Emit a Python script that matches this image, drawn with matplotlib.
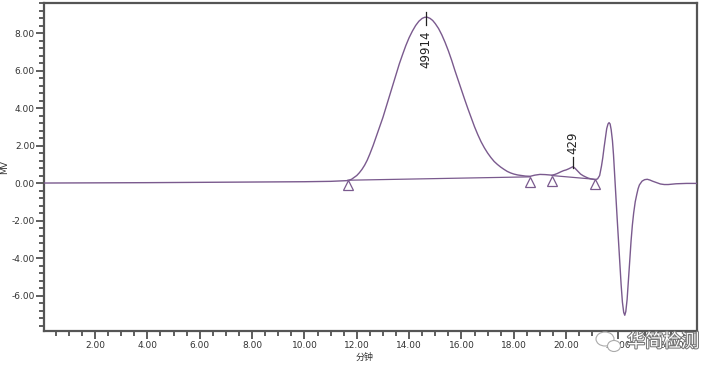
import matplotlib
matplotlib.use("Agg")
import matplotlib.pyplot as plt
import matplotlib.transforms as mtransforms
import matplotlib.patheffects as pe
from matplotlib.patches import Ellipse
from matplotlib.ticker import MultipleLocator, FormatStrFormatter

# chromatogram trace (minutes, mV)
t = [0.05, 4.0, 8.0, 10.0, 11.0, 11.66, 11.8, 11.9, 12.0, 12.1, 12.2, 12.3, 12.4,
     12.5, 12.625, 12.75, 12.875, 13.0, 13.125, 13.25, 13.375, 13.5, 13.625, 13.75,
     13.875, 14.0, 14.125, 14.25, 14.375, 14.5, 14.6, 14.7, 14.8, 14.9, 15.0,
     15.125, 15.25, 15.375, 15.5, 15.625, 15.75, 15.875, 16.0, 16.125, 16.25,
     16.375, 16.5, 16.625, 16.75, 16.875, 17.0, 17.125, 17.25, 17.375, 17.5,
     17.625, 17.75, 17.875, 18.0, 18.15, 18.3, 18.45, 18.63, 18.8, 19.0, 19.2,
     19.45, 19.55, 19.65, 19.8, 19.9, 20.0, 20.1, 20.2, 20.26, 20.33, 20.4, 20.48,
     20.55, 20.65, 20.75, 20.85, 20.95, 21.1, 21.2, 21.28, 21.35, 21.4, 21.45,
     21.5, 21.55, 21.6, 21.64, 21.68, 21.72, 21.77, 21.81, 21.85, 21.9, 21.95,
     22.0, 22.05, 22.1, 22.15, 22.2, 22.24, 22.28, 22.33, 22.38, 22.43, 22.48,
     22.53, 22.58, 22.64, 22.7, 22.75, 22.8, 22.9, 23.0, 23.1, 23.2, 23.3, 23.4,
     23.5, 23.6, 23.75, 23.9, 24.2, 24.6, 25.0]
mv = [0.0, 0.02, 0.05, 0.07, 0.09, 0.13, 0.2, 0.3, 0.4, 0.55, 0.73, 0.95, 1.22,
      1.55, 2.0, 2.5, 3.0, 3.5, 4.07, 4.65, 5.22, 5.8, 6.35, 6.85,
      7.33, 7.75, 8.1, 8.4, 8.63, 8.78, 8.84, 8.84, 8.78, 8.67, 8.5,
      8.24, 7.9, 7.5, 7.05, 6.55, 6.0, 5.48, 4.95, 4.45, 3.95,
      3.47, 3.0, 2.58, 2.2, 1.88, 1.6, 1.36, 1.15, 0.99, 0.85,
      0.73, 0.62, 0.54, 0.48, 0.43, 0.4, 0.37, 0.36, 0.42, 0.46, 0.45,
      0.42, 0.45, 0.5, 0.6, 0.66, 0.7, 0.76, 0.83, 0.87, 0.8, 0.7, 0.58,
      0.48, 0.39, 0.32, 0.26, 0.22, 0.18, 0.22, 0.4, 0.9, 1.35, 1.9,
      2.4, 2.9, 3.15, 3.22, 3.15, 2.85, 2.25, 1.5, 0.5, -0.7, -1.9,
      -3.1, -4.3, -5.4, -6.35, -6.9, -7.05, -6.85, -6.2, -5.2, -4.15, -3.1,
      -2.25, -1.6, -1.0, -0.6, -0.3, -0.1, 0.1, 0.18, 0.2, 0.16, 0.1, 0.05,
      0.0, -0.05, -0.08, -0.08, -0.04, -0.02, -0.02]

# integration baselines (start/end points)
base_t = [[11.66, 18.63], [19.45, 21.1]]
base_mv = [[0.15, 0.33], [0.40, 0.20]]

# peak apex labels
peak_t = [14.63, 20.26]
peak_tick_lo = [8.43, 0.80]
peak_tick_hi = [9.13, 1.39]
peak_label_y = [7.15, 2.13]
peak_labels = ["49914", "429"]

purple = "#7a5a8e"
spine_c = "#555555"

fig = plt.figure(figsize=(7.13, 3.71), dpi=100)
ax = fig.add_axes([44 / 713, 1 - 331 / 371, (697 - 44) / 713, (331 - 3) / 371])

ax.plot(t, mv, color=purple, lw=1.0, zorder=3, solid_joinstyle="round")
for bt, bm in zip(base_t, base_mv):
    ax.plot(bt, bm, color=purple, lw=0.9, zorder=3)

# triangles sit just below the baseline ends
tri_tr = mtransforms.offset_copy(ax.transData, fig=fig, x=0, y=-5, units="dots")
tri_x = [v for bt in base_t for v in bt]
tri_y = [v for bm in base_mv for v in bm]
ax.plot(tri_x, tri_y, ls="none", marker="^", ms=7, mfc="white", mec=purple,
        mew=0.9, transform=tri_tr, zorder=4)

for i in range(len(peak_t)):
    ax.plot([peak_t[i], peak_t[i]], [peak_tick_lo[i], peak_tick_hi[i]], color="#222222", lw=0.9, zorder=4)
    ax.text(peak_t[i], peak_label_y[i], peak_labels[i], rotation=90, ha="center", va="center",
            fontsize=8.5, color="#222222")

ax.set_xlim(0.05, 25)
ax.set_ylim(-7.89, 9.6)
ax.xaxis.set_major_locator(MultipleLocator(2))
ax.xaxis.set_minor_locator(MultipleLocator(0.5))
ax.yaxis.set_major_locator(MultipleLocator(2))
ax.yaxis.set_minor_locator(MultipleLocator(0.4))
ax.xaxis.set_major_formatter(FormatStrFormatter("%.2f"))
ax.yaxis.set_major_formatter(FormatStrFormatter("%.2f"))
ax.tick_params(which="major", length=6, width=1.1, color="#333333", labelsize=6.5,
               labelcolor="#333333", pad=1.5, direction="out")
ax.tick_params(which="minor", length=3.5, width=1.1, color="#333333", direction="out")
ax.tick_params(axis="y", pad=0.5)

for s in ax.spines.values():
    s.set_linewidth(1.6)
    s.set_color(spine_c)

fig.text(5 / 713, 1 - 167 / 371, "MV", rotation=90, ha="center", va="center",
         fontsize=6.5, color="#333333")
fig.text(365 / 713, 1 - 357 / 371, "分钟", ha="center", va="center", fontsize=6.5,
         color="#333333", family=["Noto Sans CJK SC", "DejaVu Sans"])

# watermark in the lower right corner
for cx, cy, w, h in [(605, 339, 18, 14), (614, 346, 13, 11)]:
    fig.patches.append(Ellipse((cx / 713, 1 - cy / 371), w / 713, h / 371,
                               transform=fig.transFigure, facecolor="white",
                               edgecolor="#aaaaaa", lw=0.8, zorder=10))
fig.text(663 / 713, 1 - 342 / 371, "华简检测", ha="center", va="center", fontsize=13,
         color="white", family=["Noto Sans CJK SC", "DejaVu Sans"], zorder=11,
         path_effects=[pe.withStroke(linewidth=1.5, foreground="#777777")])

fig.savefig("out.png", dpi=100)
